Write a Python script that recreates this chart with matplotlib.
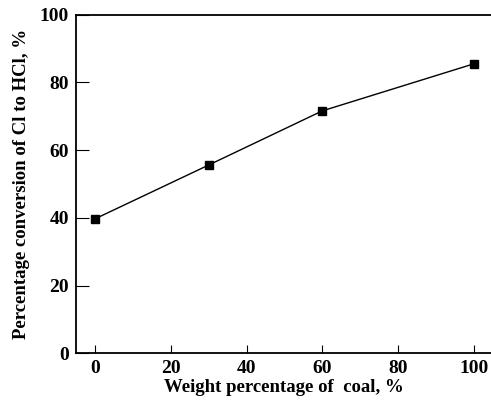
import matplotlib
matplotlib.use("Agg")
import matplotlib.pyplot as plt

# data
coal_pct = [0, 30, 60, 100]
conversion = [39.7, 55.6, 71.6, 85.5]

xticks = [0, 20, 40, 60, 80, 100]
yticks = [0, 20, 40, 60, 80, 100]

plt.rcParams['font.family'] = 'Liberation Serif'
plt.rcParams['font.weight'] = 'bold'

fig = plt.figure(figsize=(4.91, 4.07), dpi=100)
ax = fig.add_axes([76 / 491, 1 - 353.3 / 407, 1 - 76 / 491, (353.3 - 14.7) / 407])

ax.plot(coal_pct, conversion, color='black', linewidth=1.0,
        marker='s', markersize=5.5)

ax.set_xlim(-5, 104.5)
ax.set_ylim(0, 100)
ax.set_xticks(xticks)
ax.set_yticks(yticks)
ax.tick_params(direction='in', labelsize=14, width=0.8)
ax.tick_params(axis='y', length=9, pad=5)
ax.tick_params(axis='x', length=6, pad=5)

for side in ['left', 'bottom', 'top']:
    ax.spines[side].set_linewidth(1.3)
ax.spines['right'].set_visible(False)

ax.set_xlabel("Weight percentage of  coal, %", fontsize=13.5, fontweight='bold', labelpad=1)
ax.set_ylabel("Percentage conversion of Cl to HCl, %", fontsize=13.5, fontweight='bold', labelpad=7)

fig.savefig("out.png", dpi=100)
